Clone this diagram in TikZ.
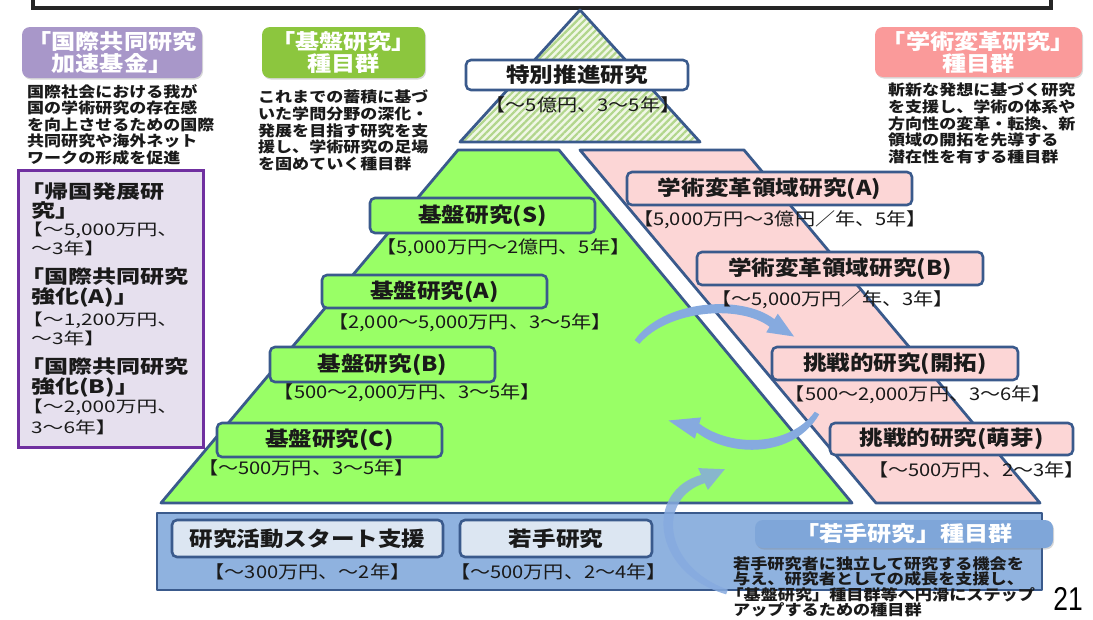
\documentclass[tikz,border=0pt]{standalone}
\usepackage{fontspec}
\setmainfont{Noto Sans CJK JP}[FakeStretch=1.15]
\newfontfamily\widejp{Noto Sans CJK JP}[FakeStretch=1.3]
\newfontfamily\numfont{Liberation Sans}[FakeStretch=0.8]
\usetikzlibrary{patterns.meta,shadows,arrows.meta}
\definecolor{dkblue}{HTML}{3A5A8C}
\definecolor{pgreen}{HTML}{99FF66}
\definecolor{ppink}{HTML}{FCD6D6}
\definecolor{bandblue}{HTML}{8FB2DF}
\definecolor{lblue}{HTML}{DCE6F2}
\definecolor{labblue}{HTML}{7FA6D9}
\definecolor{labpurple}{HTML}{A897C9}
\definecolor{labgreen}{HTML}{8CC63E}
\definecolor{labpink}{HTML}{FA9A9A}
\definecolor{lavender}{HTML}{E6E0EE}
\definecolor{kpurple}{HTML}{7030A0}
\definecolor{arrowblue}{HTML}{86AADF}
\definecolor{hatchgreen}{HTML}{B2D68C}
\definecolor{hatchbg}{HTML}{F0F7E6}
\definecolor{txt}{HTML}{1A1A1A}
\newcommand\bxfont{\bfseries\fontsize{20.5}{22}\selectfont}
\newcommand\subfont{\fontsize{17.5}{18}\selectfont}
\newcommand\descfont{\bfseries\fontsize{14.8}{16.6}\selectfont}
\newcommand\labfont{\bfseries\fontsize{21}{22}\selectfont}
\newcommand\kbfont{\widejp\bfseries\fontsize{18.5}{19}\selectfont}
\newcommand\knfont{\widejp\fontsize{16}{16}\selectfont}
\begin{document}
\begin{tikzpicture}[x=1pt,y=-1pt,
  edge/.style={draw=dkblue,line width=2.8pt,line join=round},
  gbox/.style={rounded corners=5pt,draw=dkblue,line width=2.6pt,fill=pgreen,minimum height=34pt,inner sep=0pt,font=\bxfont,text=txt},
  pbox/.style={gbox,fill=ppink},
  bbox/.style={gbox,fill=lblue,minimum height=37pt},
  subt/.style={inner sep=0pt,font=\subfont,text=txt},
  desc/.style={inner sep=0pt,font=\descfont,align=left,anchor=north west,text=txt},
  lab/.style={rounded corners=8pt,text=white,font=\labfont,align=center,inner sep=0pt,drop shadow={opacity=0.3,shadow xshift=1pt,shadow yshift=-1.5pt}},
  kb/.style={inner sep=0pt,anchor=west,text=txt,font=\kbfont},
  kn/.style={inner sep=0pt,anchor=west,text=txt,font=\knfont},
  flow/.style={fill=arrowblue},
]
\useasboundingbox (0,0) rectangle (1093,619);
\clip (0,0) rectangle (1093,619);
\fill[white] (0,0) rectangle (1093,619);
% top frame
\draw[line width=3.2pt,draw=black!85] (33,-20) rectangle (1051,8);
% top triangle
\coordinate (apex) at (580,10);
\coordinate (tR) at (700,142);
\coordinate (tL) at (460,142);
\fill[hatchbg] (apex) -- (tR) -- (tL) -- cycle;
\fill[pattern={Lines[angle=45,distance=5pt,line width=2.2pt]},pattern color=hatchgreen] (apex) -- (tR) -- (tL) -- cycle;
\draw[edge] (apex) -- (tR) -- (tL) -- cycle;
% green pyramid
\filldraw[edge,fill=pgreen] (458,150) -- (559,150) -- (852,503) -- (161,503) -- cycle;
% pink band
\filldraw[edge,fill=ppink] (580,150) -- (744,150) -- (1040,503) -- (876,503) -- cycle;
% bottom band
\filldraw[edge,fill=bandblue] (157,513) rectangle (1042,590);
% left purple box
\filldraw[fill=lavender,draw=kpurple,line width=3pt] (18,170) rectangle (203,447);
% flow arrows (tapered)
\fill[flow] (634.7,340.1) .. controls (663,300) and (742,294) .. (774.4,319.2)
  -- (777.8,313.7) -- (794,336.5) -- (766.2,332.4) -- (769.6,326.8)
  .. controls (740,304) and (668,310) .. (639.3,343.9) -- cycle;
\fill[flow] (819.2,414.3) .. controls (794,458) and (730,458) .. (696.7,432.3)
  -- (694.9,438.6) -- (668.5,420.5) -- (701.1,417.4) -- (699.3,423.7)
  .. controls (732,448) and (790,446) .. (814.8,411.7) -- cycle;
\fill[flow,opacity=0.85] (726.1,594.3) .. controls (650,572) and (645,490) .. (701.2,474.9)
  -- (698.1,468.1) -- (724.8,469.2) -- (707.9,489.9) -- (704.8,483.1)
  .. controls (657,498) and (662,566) .. (727.9,589.7) -- cycle;
% labels
\node[lab,fill=labpurple,minimum width=180pt,minimum height=51pt] (Lkokusai) at (112,52.5) {「国際共同研究\\加速基金」};
\node[lab,fill=labgreen,minimum width=163pt,minimum height=51pt] (Lkiban) at (343.5,52.5) {「基盤研究」\\種目群};
\node[lab,fill=labpink,minimum width=207pt,minimum height=50pt] (Lgakujutsu) at (978.5,52) {「学術変革研究」\\種目群};
\node[lab,fill=labblue,minimum width=298pt,minimum height=28pt] (Lwakate) at (904,534) {「若手研究」種目群};
% descriptions
\node[desc] (D1) at (27,84) {国際社会における我が\\国の学術研究の存在感\\を向上させるための国際\\共同研究や海外ネット\\ワークの形成を促進};
\node[desc] (D2) at (258,90) {これまでの蓄積に基づ\\いた学問分野の深化・\\発展を目指す研究を支\\援し、学術研究の足場\\を固めていく種目群};
\node[desc] (D3) at (888,83) {斬新な発想に基づく研究\\を支援し、学術の体系や\\方向性の変革・転換、新\\領域の開拓を先導する\\潜在性を有する種目群};
\node[desc,font=\bfseries\fontsize{14.9}{15.5}\selectfont] (D4) at (733,556) {若手研究者に独立して研究する機会を\\与え、研究者としての成長を支援し、\\\kern-0.45em「基盤研究」種目群等へ円滑にステップ\\アップするための種目群};
% left box contents
\node[kb] (k1) at (20,192) {「帰国発展研};
\node[kb] (k2) at (31,211) {究」};
\node[kn] (k3) at (22,230) {【～5,000万円、};
\node[kn] (k4) at (31,248) {～3年】};
\node[kb] (k5) at (20,277) {「国際共同研究};
\node[kb] (k6) at (31,297) {強化(A)」};
\node[kn] (k7) at (22,320) {【～1,200万円、};
\node[kn] (k8) at (31,338) {～3年】};
\node[kb] (k9) at (20,367) {「国際共同研究};
\node[kb] (k10) at (31,387) {強化(B)」};
\node[kn] (k11) at (22,407) {【～2,000万円、};
\node[kn] (k12) at (31,427) {3～6年】};
% top box
\node[gbox,fill=white,minimum width=222pt,minimum height=30pt] (tok) at (577,75) {特別推進研究};
\node[subt] (stok) at (583,105) {【～5億円、3～5年】};
% kiban boxes
\node[gbox,minimum width=225pt,minimum height=35pt] (kS) at (482.5,215.5) {基盤研究(S)};
\node[subt] (sS) at (503.5,248) {【5,000万円～2億円、5年】};
\node[gbox,minimum width=225pt,minimum height=33pt] (kA) at (434.5,291.5) {基盤研究(A)};
\node[subt] (sA) at (470,323) {【2,000～5,000万円、3～5年】};
\node[gbox,minimum width=225pt,minimum height=35pt] (kB) at (382.5,364.5) {基盤研究(B)};
\node[subt] (sB) at (407.5,393) {【500～2,000万円、3～5年】};
\node[gbox,minimum width=225pt,minimum height=34pt] (kC) at (329.5,440) {基盤研究(C)};
\node[subt] (sC) at (306.5,468) {【～500万円、3～5年】};
% pink boxes
\node[pbox,minimum width=285pt,minimum height=33pt] (pA) at (769.5,188.5) {学術変革領域研究(A)};
\node[subt] (spA) at (780,220) {【5,000万円～3億円／年、5年】};
\node[pbox,minimum width=286pt,minimum height=33pt] (pB) at (840,268.5) {学術変革領域研究(B)};
\node[subt] (spB) at (832.5,300) {【～5,000万円／年、3年】};
\node[pbox,minimum width=246pt,minimum height=33pt] (pK) at (895,363.5) {挑戦的研究(開拓)};
\node[subt] (spK) at (918.5,395) {【500～2,000万円、3～6年】};
\node[pbox,minimum width=243pt,minimum height=32pt] (pM) at (951.5,439) {挑戦的研究(萌芽)};
\node[subt] (spM) at (976.5,470) {【～500万円、2～3年】};
% bottom boxes
\node[bbox,minimum width=271pt] (b1) at (307.5,538.5) {研究活動スタート支援};
\node[subt] (sb1) at (307.5,572) {【～300万円、～2年】};
\node[bbox,minimum width=192pt] (b2) at (556,538.5) {若手研究};
\node[subt] (sb2) at (558.5,572) {【～500万円、2～4年】};
% page number
\node[inner sep=0pt,font=\numfont\fontsize{33}{33}\selectfont,text=black] (pg) at (1068,599) {21};
\end{tikzpicture}
\end{document}
